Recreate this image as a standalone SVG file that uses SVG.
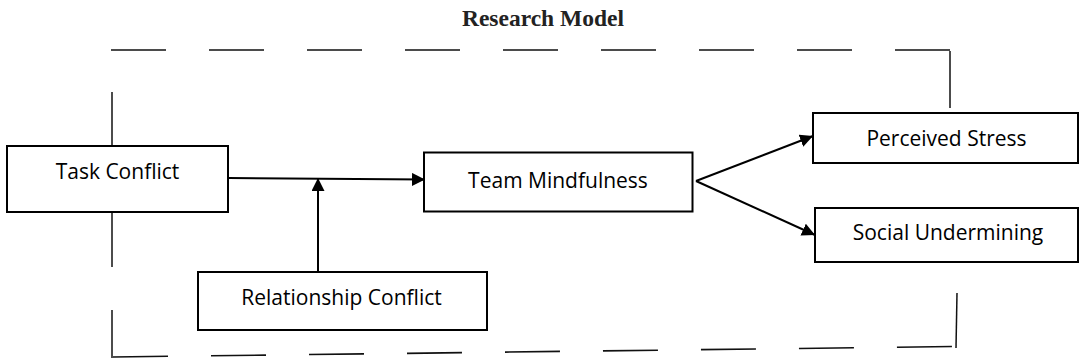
<svg xmlns="http://www.w3.org/2000/svg" width="1079" height="360" viewBox="0 0 1079 360">
<style>
.box{fill:#fff;stroke:#000;stroke-width:2}
.lbl{font-family:"Open Sans","Noto Sans",sans-serif;font-size:21px;fill:#000;text-anchor:middle}
.dash{fill:none;stroke:#111;stroke-width:1.6;stroke-dasharray:55 43}
.frame{fill:none;stroke:#111;stroke-width:1.5}
.conn{fill:none;stroke:#000;stroke-width:2}
</style>
<defs>
<marker id="ah" markerUnits="userSpaceOnUse" markerWidth="14" markerHeight="13" refX="13" refY="6.5" orient="auto">
<path d="M0,0 L13,6.5 L0,13 z" fill="#000"/>
</marker>
</defs>
<rect width="1079" height="360" fill="#fff"/>
<text x="543" y="26" font-family="'Liberation Serif','Times New Roman',serif" font-weight="bold" font-size="23.5" fill="#222" text-anchor="middle">Research Model</text>
<g id="frame">
<line class="dash" x1="111" y1="50" x2="950" y2="50"/>
<line class="frame" x1="950" y1="51" x2="950" y2="108"/>
<line class="frame" x1="112" y1="92" x2="112" y2="146"/>
<line class="frame" x1="112" y1="212" x2="112" y2="267"/>
<line class="frame" x1="112" y1="310" x2="112" y2="358"/>
<line class="dash" x1="113" y1="357" x2="954" y2="346.5"/>
<line class="frame" x1="957" y1="293" x2="956" y2="348"/>
</g>
<g id="connectors">
<line class="conn" x1="229" y1="178" x2="425" y2="179.5" marker-end="url(#ah)"/>
<line class="conn" stroke-width="3" x1="318" y1="272" x2="318" y2="178" marker-end="url(#ah)"/>
<line class="conn" x1="696" y1="181" x2="813" y2="136" marker-end="url(#ah)"/>
<line class="conn" x1="696" y1="181" x2="815" y2="235" marker-end="url(#ah)"/>
</g>
<g id="task-conflict">
<rect class="box" x="7" y="146" width="221" height="66"/>
<text class="lbl" x="117.5" y="179">Task Conflict</text>
</g>
<g id="relationship-conflict">
<rect class="box" x="198" y="272" width="289" height="58"/>
<text class="lbl" x="341.5" y="305">Relationship Conflict</text>
</g>
<g id="team-mindfulness">
<rect class="box" x="424" y="152.5" width="268.5" height="59"/>
<text class="lbl" x="558" y="188">Team Mindfulness</text>
</g>
<g id="perceived-stress">
<rect class="box" x="813" y="113" width="265" height="50"/>
<text class="lbl" x="946.5" y="146">Perceived Stress</text>
</g>
<g id="social-undermining">
<rect class="box" x="815" y="208" width="263" height="54"/>
<text class="lbl" x="948" y="240">Social Undermining</text>
</g>
</svg>
